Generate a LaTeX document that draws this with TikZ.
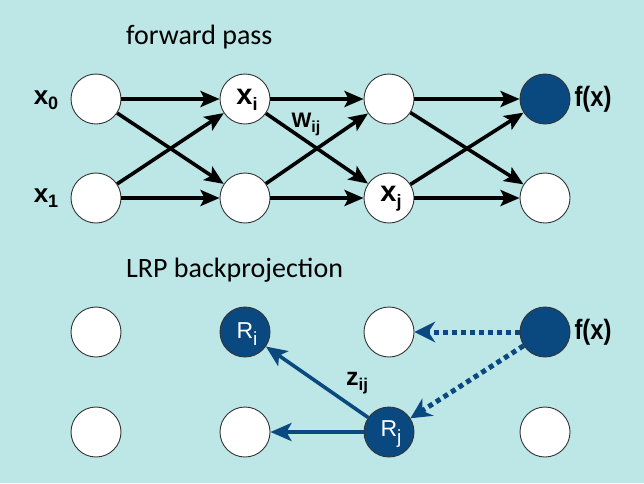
\documentclass[tikz,border=0pt]{standalone}
\usepackage{fontspec}
\setmainfont{Liberation Sans}
\newfontfamily\titlefont{Carlito}
\usetikzlibrary{arrows.meta}
\definecolor{bgc}{RGB}{189,230,230}
\definecolor{dblue}{RGB}{10,73,128}
% #1 main text, #2 subscript, #3 sub size, #4 drop
\newcommand{\lbl}[4]{#1{\fontsize{#3}{#3}\selectfont\raisebox{-#4}{#2}}}
\begin{document}
\begin{tikzpicture}[x=1pt,y=-1pt,
  neuron/.style={circle,draw=black!80,line width=0.9pt,fill=white,minimum size=50pt,inner sep=0pt},
  dneuron/.style={neuron,fill=dblue},
  fwd/.style={line width=3.6pt,-{Stealth[length=19pt,width=16pt,inset=4pt]}},
  bwd/.style={line width=3.6pt,draw=dblue,-{Stealth[length=21pt,width=18pt,inset=5pt]},dblue},
  bdot/.style={line width=5pt,draw=dblue,dash pattern=on 5pt off 4pt,-{Stealth[length=21pt,width=21pt,inset=7pt,line width=0pt]},dblue},
  lab/.style={font=\bfseries,inner sep=0pt},
  wlab/.style={text=white,inner sep=0pt},
  ttl/.style={font=\titlefont\fontsize{28}{28}\selectfont,anchor=base west,inner sep=0pt}]
\fill[bgc] (0,0) rectangle (644,483);
\useasboundingbox (0,0) rectangle (644,483);
% titles
\node[ttl] (t1) at (126,44) {forward pass};
\node[ttl] (t2) at (126,277) {LRP backprojection};
% forward nodes
\node[neuron] (a1) at (96,99) {};
\node[neuron] (a2) at (96,198) {};
\node[neuron] (b1) at (245,99) {};
\node[neuron] (b2) at (245,198) {};
\node[neuron] (c1) at (389,99) {};
\node[neuron] (c2) at (389,198) {};
\node[dneuron] (d1) at (545,99) {};
\node[neuron] (d2) at (545,198) {};
\node[lab,font=\bfseries\fontsize{29}{29}\selectfont] (xi) at (247,100) {\lbl{x}{i}{18}{6pt}};
\node[lab,font=\bfseries\fontsize{29}{29}\selectfont] (xj) at (391,199) {\lbl{x}{j}{18}{6pt}};
\node[lab,font=\bfseries\fontsize{26}{26}\selectfont] (x0) at (46,100) {\lbl{x}{0}{18}{5pt}};
\node[lab,font=\bfseries\fontsize{26}{26}\selectfont] (x1) at (46,198) {\lbl{x}{1}{18}{5pt}};
\node[lab,font=\bfseries\fontsize{28}{28}\selectfont] (fx1) at (593,99) {\scalebox{0.85}[1]{f(x)}};
\node[lab,font=\bfseries\fontsize{21}{21}\selectfont] (wij) at (306,124) {\lbl{W}{ij}{16}{5pt}};
\foreach \s/\t in {a1/b1,a1/b2,a2/b1,a2/b2,b1/c1,b1/c2,b2/c1,b2/c2,c1/d1,c1/d2,c2/d1,c2/d2}
  \draw[fwd] (\s) -- (\t);
% backward nodes
\node[neuron] (e1) at (96,332) {};
\node[neuron] (e2) at (96,432) {};
\node[dneuron] (f1) at (245,332) {};
\node[neuron] (f2) at (245,432) {};
\node[neuron] (g1) at (389,332) {};
\node[dneuron] (g2) at (389,432) {};
\node[dneuron] (h1) at (545,332) {};
\node[neuron] (h2) at (545,432) {};
\node[wlab,font=\fontsize{23}{23}\selectfont] (ri) at (247,334) {\lbl{R}{i}{19}{7pt}};
\node[wlab,font=\fontsize{23}{23}\selectfont] (rj) at (391,434) {\lbl{R}{j}{19}{7pt}};
\node[lab,font=\bfseries\fontsize{28}{28}\selectfont] (fx2) at (593,332) {\scalebox{0.85}[1]{f(x)}};
\node[lab,font=\bfseries\fontsize{25}{25}\selectfont] (zij) at (357,383) {\lbl{z}{ij}{17}{5pt}};
\draw[bdot] (h1) -- (g1);
\draw[bdot] (h1) -- (g2);
\draw[bwd] (g2) -- (f1);
\draw[bwd] (g2) -- (f2);
\end{tikzpicture}
\end{document}
